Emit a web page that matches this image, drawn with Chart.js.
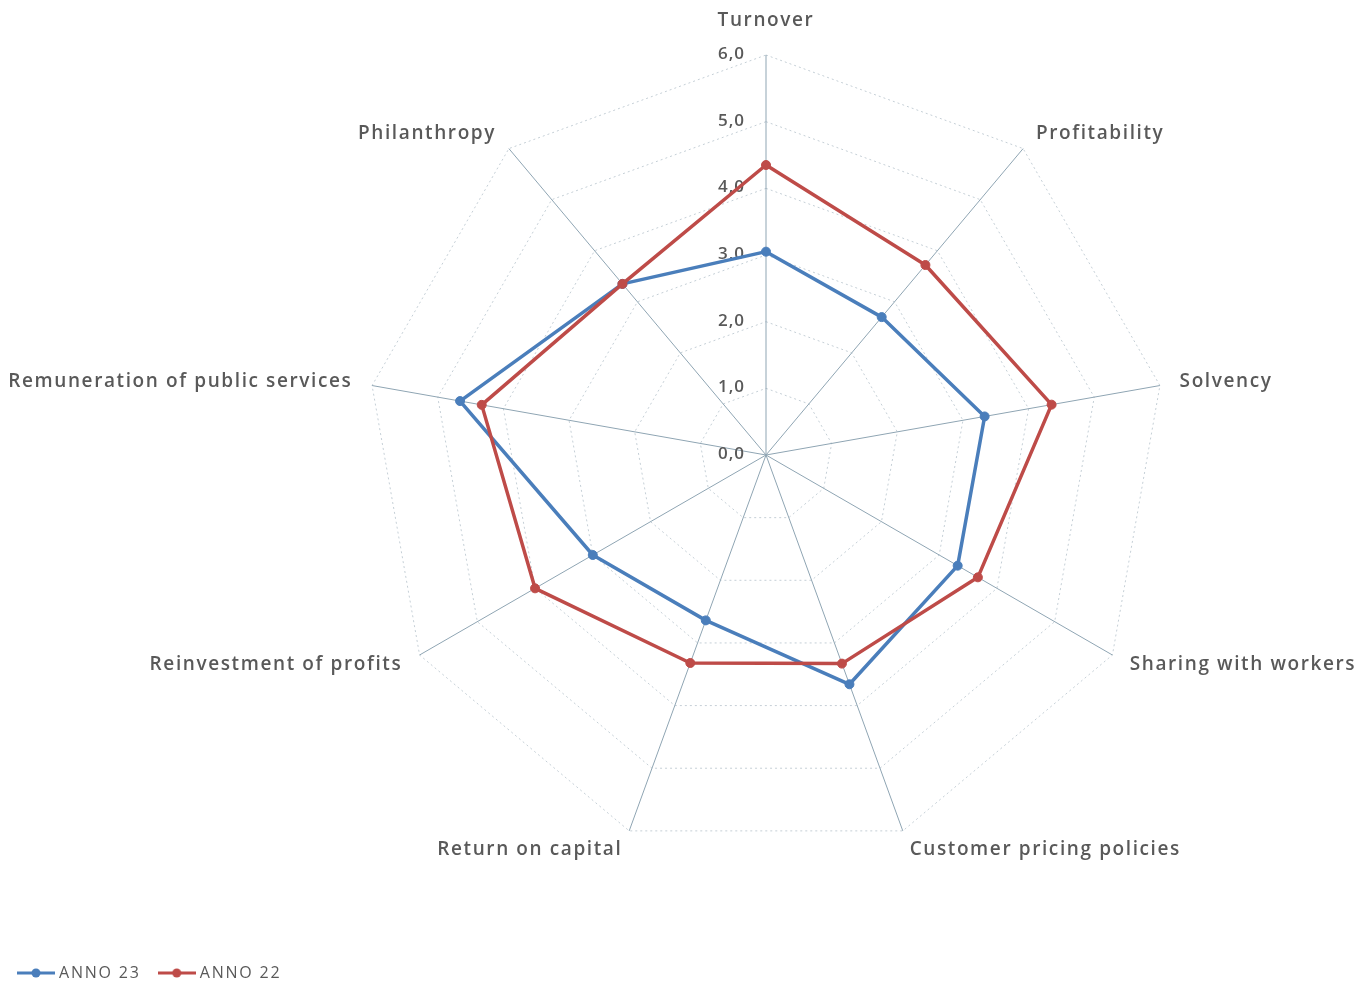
<!DOCTYPE html>
<html>
<head>
<meta charset="utf-8">
<script src="https://cdn.jsdelivr.net/npm/chart.js@4.4.1/dist/chart.umd.min.js"></script>
<style>
  html, body { margin: 0; padding: 0; background: #fff; }
  #wrap { width: 1359px; height: 982px; }
</style>
</head>
<body>
<div id="wrap"><canvas id="radar"></canvas></div>
<script>
const categories = [
  'Turnover', 'Profitability', 'Solvency', 'Sharing with workers',
  'Customer pricing policies', 'Return on capital', 'Reinvestment of profits',
  'Remuneration of public services', 'Philanthropy'
];
const anno23 = [3.05, 2.70, 3.33, 3.32, 3.66, 2.64, 3.00, 4.66, 3.35];
const anno22 = [4.35, 3.72, 4.35, 3.67, 3.33, 3.32, 4.00, 4.33, 3.35];
const tickValues = [0, 1, 2, 3, 4, 5, 6];
const seriesNames = ['ANNO 23', 'ANNO 22'];
const seriesColors = ['#4a7ebb', '#be4b48'];

// where the web sits on the canvas
const CENTER_X = 766, CENTER_Y = 455, RADIUS = 400;
const TEXT_GREY = '#595959';
const LABEL_FONT = '600 19px "Open Sans"';
const TICK_FONT = '600 17px "Open Sans"';

// small line-with-marker images for the legend
function legendSwatch(color) {
  const c = document.createElement('canvas');
  c.width = 38;
  c.height = 12;
  const g = c.getContext('2d');
  g.strokeStyle = color;
  g.lineWidth = 3;
  g.beginPath();
  g.moveTo(0, 6);
  g.lineTo(38, 6);
  g.stroke();
  g.fillStyle = color;
  g.beginPath();
  g.arc(19, 6, 4.5, 0, Math.PI * 2);
  g.fill();
  return c;
}
const swatches = seriesColors.map(legendSwatch);

// the legend text is drawn a little spaced out
const spacedText = {
  id: 'spacedText',
  beforeLayout(chart) { chart.ctx.letterSpacing = '1.8px'; },
  beforeDraw(chart) { chart.ctx.letterSpacing = '1.8px'; }
};

// tick values left of the vertical axis, category names outside the web
const radarText = {
  id: 'radarText',
  beforeDatasetsDraw(chart) {
    const scale = chart.scales.r;
    const ctx = chart.ctx;
    ctx.save();
    ctx.fillStyle = TEXT_GREY;
    ctx.textBaseline = 'middle';

    ctx.font = TICK_FONT;
    ctx.letterSpacing = '1px';
    ctx.textAlign = 'right';
    tickValues.forEach(v => {
      const p = scale.getPointPositionForValue(0, v);
      ctx.fillText(v.toFixed(1).replace('.', ','), p.x - 21, p.y - 1);
    });

    ctx.font = LABEL_FONT;
    ctx.letterSpacing = '1.6px';
    categories.forEach((label, i) => {
      let p = scale.getPointPosition(i, scale.drawingArea + 20);
      let align = 'left';
      if (Math.abs(p.x - scale.xCenter) < 1) {
        p = scale.getPointPosition(i, scale.drawingArea + 34);
        align = 'center';
      } else if (p.x < scale.xCenter) {
        align = 'right';
      }
      ctx.textAlign = align;
      ctx.fillText(label, p.x, p.y);
    });
    ctx.restore();
  }
};

const datasets = [anno23, anno22].map((values, i) => ({
  label: seriesNames[i],
  data: values,
  borderColor: seriesColors[i],
  backgroundColor: seriesColors[i],
  pointBackgroundColor: seriesColors[i],
  pointBorderColor: seriesColors[i],
  borderWidth: 3.5,
  pointRadius: 4.5,
  pointBorderWidth: 1,
  fill: false,
  tension: 0,
  order: 2 - i
}));

new Chart(document.getElementById('radar'), {
  type: 'radar',
  data: { labels: categories, datasets: datasets },
  plugins: [spacedText, radarText],
  options: {
    responsive: true,
    maintainAspectRatio: false,
    animation: false,
    layout: { padding: { left: 0, bottom: -9 } },
    elements: { line: { borderJoinStyle: 'round' } },
    plugins: {
      tooltip: { enabled: false },
      legend: {
        position: 'bottom',
        align: 'start',
        labels: {
          usePointStyle: true,
          pointStyleWidth: 30,
          padding: 21,
          color: TEXT_GREY,
          font: { family: '"Open Sans"', size: 16 },
          sort: (a, b) => a.datasetIndex - b.datasetIndex,
          generateLabels(chart) {
            const items = Chart.defaults.plugins.legend.labels.generateLabels(chart);
            items.forEach(it => { it.pointStyle = swatches[it.datasetIndex]; });
            return items;
          }
        }
      }
    },
    scales: {
      r: {
        min: 0,
        max: 6,
        ticks: { display: false, stepSize: 1 },
        pointLabels: { display: false },
        grid: { color: '#c5cfd6', lineWidth: 1, circular: false },
        border: { dash: [2, 3] },
        angleLines: { color: '#8fa5b3', lineWidth: 1 },
        afterFit(scale) {
          scale.xCenter = CENTER_X;
          scale.yCenter = CENTER_Y;
          scale.drawingArea = RADIUS;
        }
      }
    }
  }
});
</script>
</body>
</html>
